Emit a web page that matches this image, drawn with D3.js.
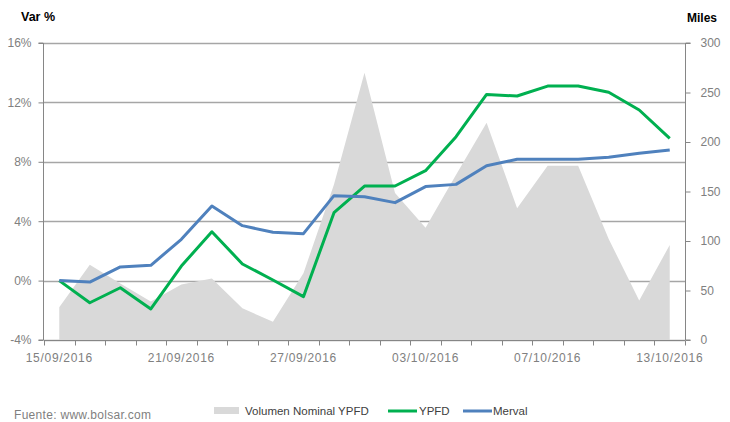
<!DOCTYPE html>
<html><head><meta charset="utf-8">
<script src="https://cdn.jsdelivr.net/npm/d3@7/dist/d3.min.js"></script>
<style>
body{margin:0;background:#fff;}
svg{display:block;font-family:"Liberation Sans",Arial,sans-serif;}
</style></head>
<body><svg id="c" width="730" height="422"></svg>
<script>
const dates = ["15/09/2016","16/09/2016","19/09/2016","20/09/2016","21/09/2016","22/09/2016","23/09/2016","26/09/2016","27/09/2016","28/09/2016","29/09/2016","30/09/2016","03/10/2016","04/10/2016","05/10/2016","06/10/2016","07/10/2016","10/10/2016","11/10/2016","12/10/2016","13/10/2016"];
const ypfd = [0.0,-1.49,-0.48,-1.91,0.98,3.29,1.12,0.04,-1.08,4.57,6.37,6.37,7.4,9.69,12.54,12.43,13.1,13.1,12.68,11.49,9.58];
const merval = [0.0,-0.1,0.92,1.03,2.78,5.02,3.7,3.25,3.16,5.72,5.65,5.25,6.33,6.48,7.74,8.17,8.17,8.17,8.3,8.57,8.8];
const volumen = [33,76,57,39,56,62,32,18.5,67.5,157,270,148.5,113.5,167,219.5,133,176,176,102,40,96];
const leftTicks = [-4,0,4,8,12,16];
const rightTicks = [0,50,100,150,200,250,300];
const xLabels = ["15/09/2016","21/09/2016","27/09/2016","03/10/2016","07/10/2016","13/10/2016"];

const svg = d3.select("#c");
const L=44, R=685, T=43, B=340;
const x = d3.scaleBand().domain(dates).range([L,R]).padding(0);
const cx = d => x(d)+x.bandwidth()/2;
const yL = d3.scaleLinear().domain([-4,16]).range([B,T]);
const yR = d3.scaleLinear().domain([0,300]).range([B,T]);

// gridlines
svg.append("g").selectAll("line").data(leftTicks).join("line")
  .attr("x1",L).attr("x2",R).attr("y1",d=>Math.round(yL(d))+0.5).attr("y2",d=>Math.round(yL(d))+0.5)
  .attr("stroke","#a6a6a6").attr("stroke-width",1.3);

// area
const area = d3.area().x((d,i)=>cx(dates[i])).y0(yR(0)).y1(d=>yR(d));
svg.append("path").datum(volumen).attr("d",area).attr("fill","#d9d9d9");

// lines
const lineL = d3.line().x((d,i)=>cx(dates[i])).y(d=>yL(d));
svg.append("path").datum(ypfd).attr("d",lineL).attr("fill","none").attr("stroke","#00b050").attr("stroke-width",3).attr("stroke-linejoin","round");
svg.append("path").datum(merval).attr("d",lineL).attr("fill","none").attr("stroke","#4f81bd").attr("stroke-width",3).attr("stroke-linejoin","round");

// axes
const axL = svg.append("g").attr("transform",`translate(${L-0.5},0)`)
  .call(d3.axisLeft(yL).tickValues(leftTicks).tickSize(5).tickPadding(7).tickFormat(d=>d+"%"));
const axR = svg.append("g").attr("transform",`translate(${R+0.5},0)`)
  .call(d3.axisRight(yR).tickValues(rightTicks).tickSize(5).tickPadding(10));
const axB = svg.append("g").attr("transform",`translate(0,${B+0.5})`)
  .call(d3.axisBottom(x).tickSize(0).tickPadding(13).tickFormat(d=>xLabels.includes(d)?d:""));
// band boundary ticks
const edges = dates.map(d=>x(d)).concat([R]);
axB.append("g").selectAll("line").data(edges).join("line")
  .attr("x1",d=>Math.round(d)+0.5).attr("x2",d=>Math.round(d)+0.5).attr("y1",0).attr("y2",5)
  .attr("stroke","#868686");
[axL,axR,axB].forEach(a=>{
  a.select(".domain").attr("stroke","#868686");
  a.selectAll(".tick line").attr("stroke","#868686");
  a.selectAll("text").attr("fill","#808080").attr("font-size",12).attr("font-family","Liberation Sans, Arial, sans-serif");
});
axB.selectAll("text").attr("letter-spacing","0.7px");
axL.select(".domain").attr("d",`M-5,${B}H0V${T}H-5`);
axR.select(".domain").attr("d",`M5,${B}H0V${T}H5`);
axB.select(".domain").attr("d",`M${L},0H${R}`);

// titles
svg.append("text").attr("x",21).attr("y",21).attr("font-weight","bold").attr("font-size",12.5).attr("fill","#000").text("Var %");
svg.append("text").attr("x",687).attr("y",22).attr("font-weight","bold").attr("font-size",12).attr("fill","#000").text("Miles");

// legend
const lg = svg.append("g").attr("font-size",11.5).attr("fill","#404040");
lg.append("rect").attr("x",214).attr("y",407).attr("width",25).attr("height",7).attr("fill","#d9d9d9");
lg.append("text").attr("x",245).attr("y",415).text("Volumen Nominal YPFD");
lg.append("line").attr("x1",388).attr("x2",417).attr("y1",411).attr("y2",411).attr("stroke","#00b050").attr("stroke-width",3);
lg.append("text").attr("x",419).attr("y",415).text("YPFD");
lg.append("line").attr("x1",463).attr("x2",492).attr("y1",411).attr("y2",411).attr("stroke","#4f81bd").attr("stroke-width",3);
lg.append("text").attr("x",493).attr("y",415).text("Merval");

svg.append("text").attr("x",14).attr("y",419).attr("font-size",12).attr("letter-spacing","0.3px").attr("fill","#7f7f7f").text("Fuente: www.bolsar.com");
</script></body></html>
